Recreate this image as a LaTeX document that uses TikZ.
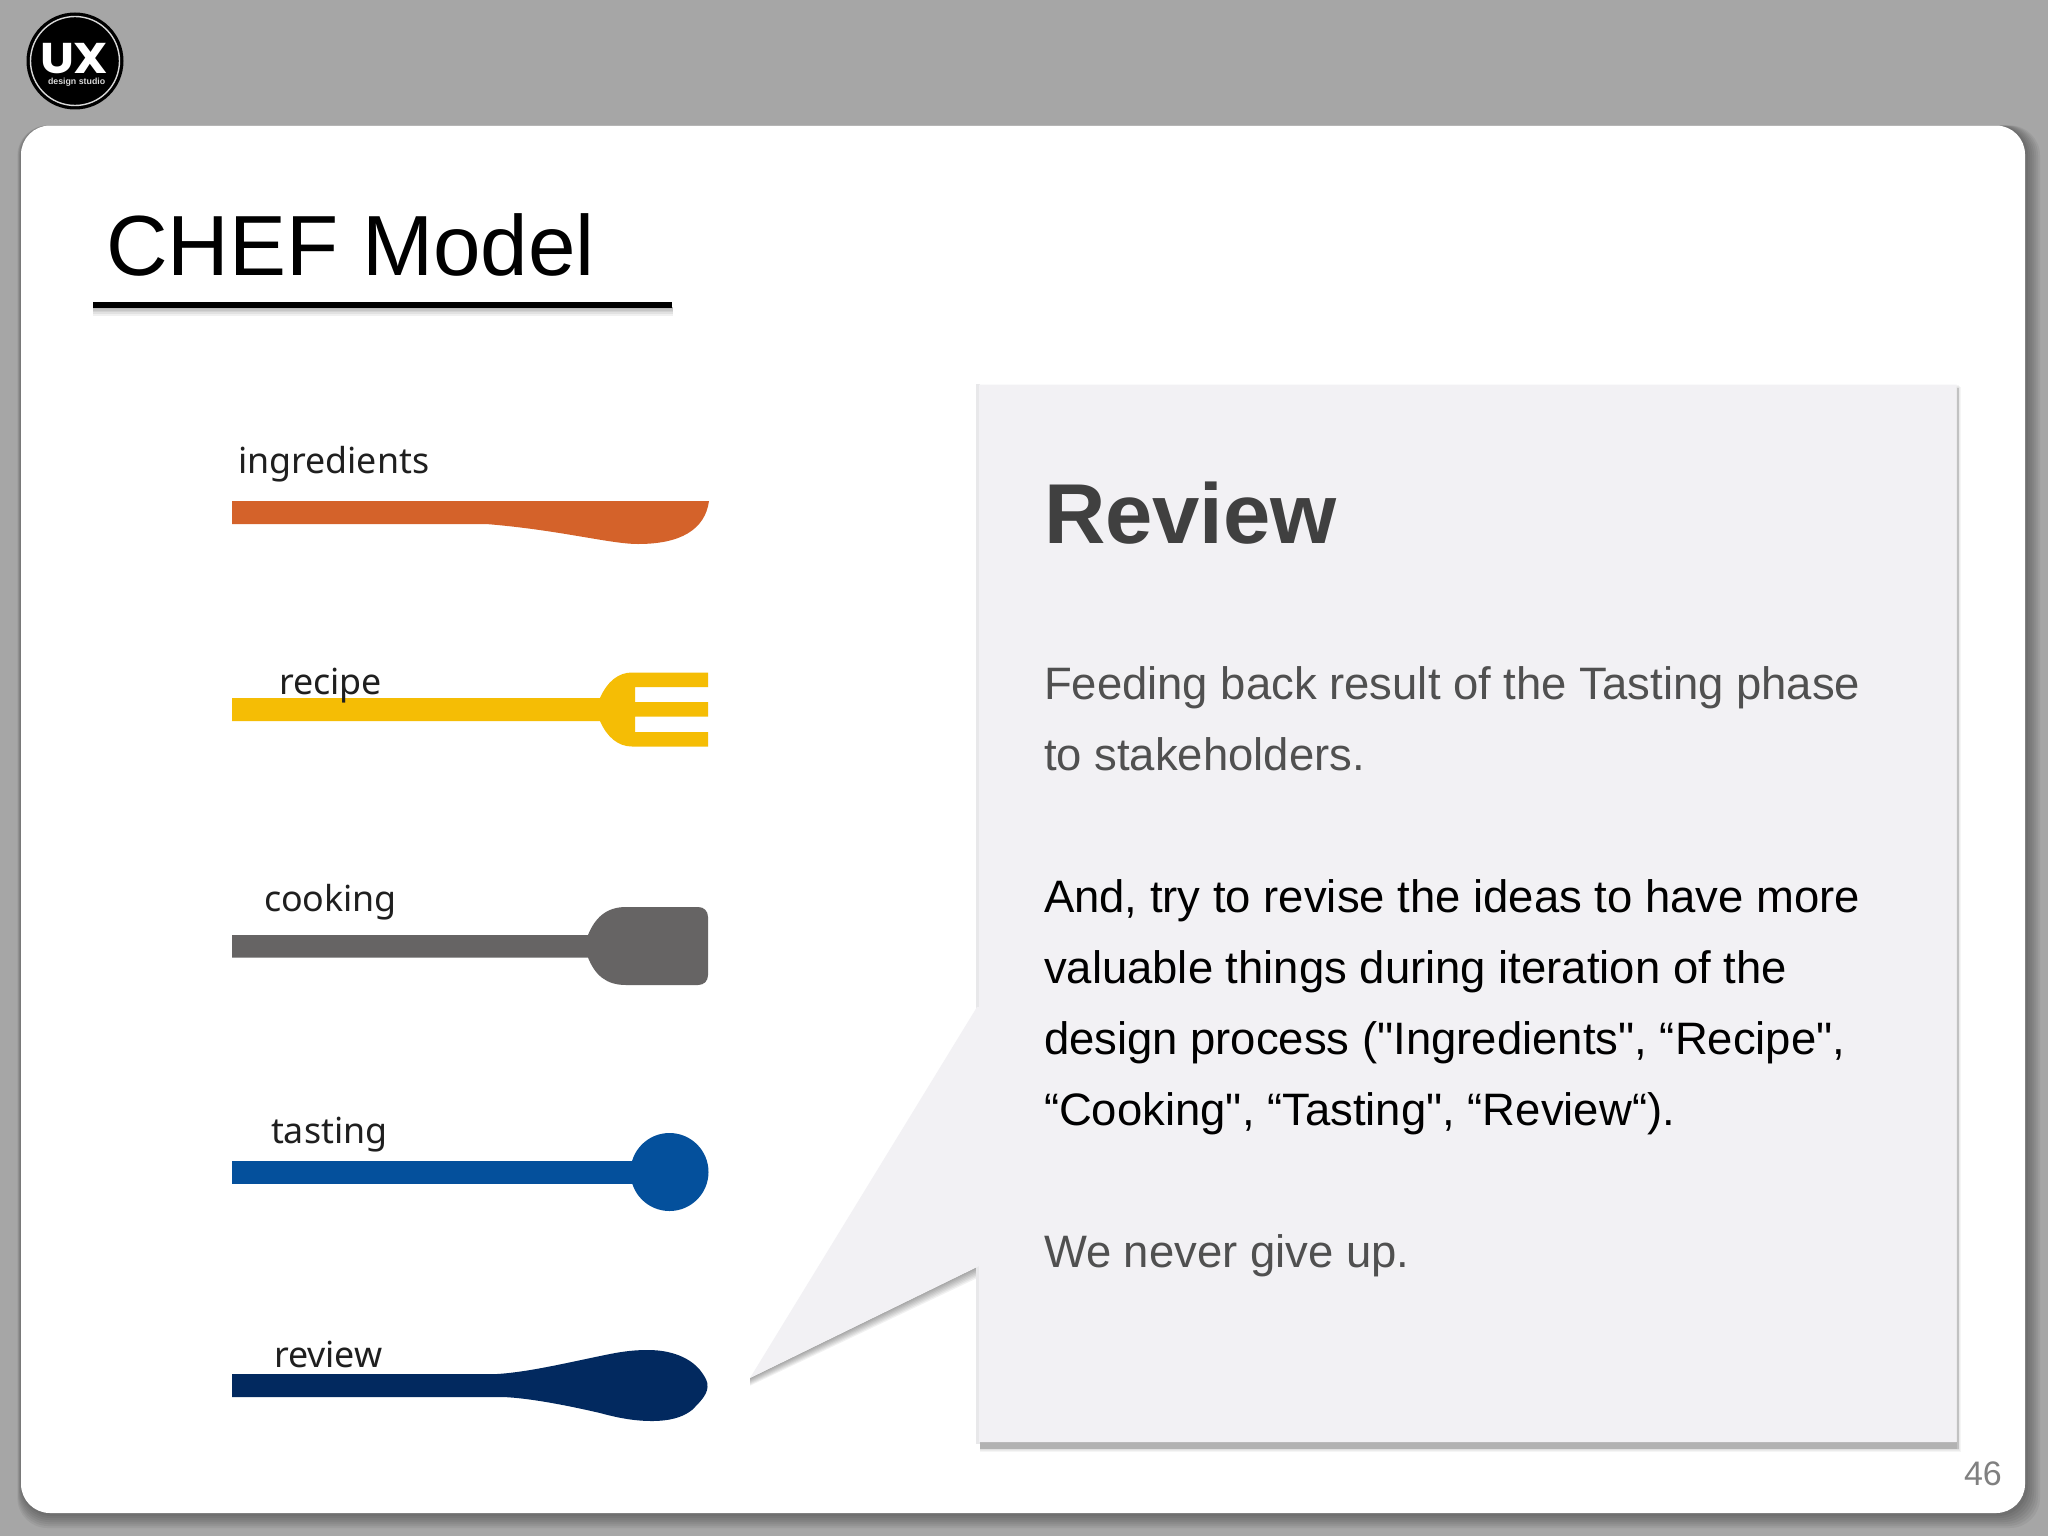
\documentclass[tikz,border=0pt]{standalone}
\usepackage{fontspec}
\setmainfont{Liberation Sans}
\newfontfamily\labelfont{Noto Sans}
\newfontfamily\bodyfont[Ligatures=NoCommon]{Liberation Sans}
\newfontfamily\uxfont{Poppins}
\definecolor{bgc}{HTML}{A6A6A6}
\definecolor{panelc}{HTML}{F2F1F4}
\definecolor{edgec}{HTML}{E8E8EA}
\definecolor{bodyg}{HTML}{505050}
\definecolor{headg}{HTML}{404040}
\definecolor{knifec}{HTML}{D4622A}
\definecolor{forkc}{HTML}{F5BD05}
\definecolor{spatc}{HTML}{666464}
\definecolor{tastec}{HTML}{04509C}
\definecolor{revc}{HTML}{02295F}
\tikzset{
  txt/.style={anchor=base west,inner sep=0pt,outer sep=0pt},
  lab/.style={txt,text=black!88,font=\labelfont\fontsize{17.9}{20}\selectfont},
  bodytxt/.style={txt,font=\bodyfont\fontsize{22.73}{26}\selectfont},
}
\begin{document}
\begin{tikzpicture}[x=0.5pt,y=-0.5pt]
\useasboundingbox (0,0) rectangle (2048,1536);
\fill[bgc] (0,0) rectangle (2048,1536);
% card shadow
\foreach \i in {12,10,...,0}{
  \fill[black,opacity=.05,rounded corners=15pt] ({21-\i*0.3},125.5) rectangle ({2025+\i+3},{1513+\i+3});
}
\fill[white,rounded corners=14.5pt] (21,125.5) rectangle (2025,1513);
% logo
\fill[black] (75,61) circle[radius=48.5];
\draw[white!85!black,line width=.7pt] (75,61) circle[radius=44.5];
\node[txt,text=white] (ux) at (40,74) {\scalebox{1.12}[1]{\uxfont\fontsize{21.5}{24}\selectfont\bfseries UX}};
\node[txt,text=white!85!black] (studio) at (48,85) {\fontsize{4.4}{5}\bfseries design studio};
% title
\node[txt] (title) at (106,275) {\fontsize{42.7}{48}\selectfont CHEF Model};
\foreach \i in {1,...,5}{
  \fill[black,opacity=.06] (93,307) rectangle (673,{307+\i*1.8});
}
\fill[black] (93,301.5) rectangle (672,307.5);
% utensils
\fill[knifec] (232,501) -- (709,501) .. controls (705,530) and (680,544) .. (638,544)
  .. controls (610,544) and (560,530) .. (486,524) -- (232,524) -- cycle;
\fill[forkc] (232,698) -- (600,698) .. controls (607,682) and (618,672.5) .. (632,672.5)
  -- (708,672.5) -- (708,687) -- (635,687) -- (635,702) -- (708,702) -- (708,716.5)
  -- (635,716.5) -- (635,732) -- (708,732) -- (708,746.5) -- (632,746.5)
  .. controls (618,746.5) and (607,737) .. (600,721) -- (232,721) -- cycle;
\fill[spatc] (232,935) -- (588,935) .. controls (595,918) and (606,907) .. (626,907)
  -- (698,907) .. controls (704,907) and (708,911) .. (708,917) -- (708,975)
  .. controls (708,981) and (704,985) .. (698,985) -- (626,985)
  .. controls (606,985) and (595,975) .. (588,957.5) -- (232,957.5) -- cycle;
\fill[tastec] (232,1161) rectangle (640,1184);
\fill[tastec] (669.5,1172) circle[radius=39];
\fill[revc] (232,1374) -- (497,1374) .. controls (530,1372) and (570,1362) .. (610,1354)
  .. controls (625,1351) and (636,1350) .. (648,1350)
  .. controls (672,1350) and (690,1358) .. (700,1370)
  .. controls (706,1378) and (708,1382) .. (707.5,1387)
  .. controls (707,1395) and (700,1402) .. (692,1410)
  .. controls (682,1418) and (668,1421) .. (652,1421)
  .. controls (632,1421) and (615,1417) .. (600,1413)
  .. controls (570,1406) and (530,1398) .. (503,1397) -- (232,1397) -- cycle;
\node[lab] (l1) at (238,473) {ingredients};
\node[lab] (l2) at (279,694) {recipe};
\node[lab] (l3) at (264,911) {cooking};
\node[lab] (l4) at (271,1143) {tasting};
\node[lab] (l5) at (274,1367) {review};
% panel shadows
\foreach \i in {1,...,7}{
  \fill[black,opacity=.055] (750,1378) -- (979,1266) -- (979,{1266+\i*1.6}) -- (750,{1378+\i*1.1}) -- cycle;
}
\foreach \i in {1,2,3}{
  \fill[black,opacity=.04] (980,{1449+\i}) rectangle ({1958+\i},{384+\i});
}
\fill[black!30] (980,1442) rectangle (1958,1449);
\fill[black!24] (1956.5,388) rectangle (1958.5,1449);
% panel with pointer
\fill[edgec] (976,384) rectangle (980,1444);
\fill[panelc] (979,384.5) -- (1956.5,384.5) -- (1956.5,1442) -- (979,1442) -- (979,1266) -- (750,1378) -- (977,1007) -- (979,1007) -- cycle;
% panel text
\node[txt,text=headg] (head) at (1044,543) {\fontsize{42.5}{48}\bfseries Review};
\node[bodytxt,text=bodyg] (p1a) at (1044,699) {Feeding back result of the Tasting phase};
\node[bodytxt,text=bodyg] (p1b) at (1044,770) {to stakeholders.};
\node[bodytxt,text=black] (p2a) at (1044,912) {And, try to revise the ideas to have more};
\node[bodytxt,text=black] (p2b) at (1044,983) {valuable things during iteration of the};
\node[bodytxt,text=black] (p2c) at (1044,1054) {design process ("Ingredients", “Recipe",};
\node[bodytxt,text=black] (p2d) at (1044,1125) {“Cooking", “Tasting", “Review“).};
\node[bodytxt,text=bodyg] (p3) at (1044,1267) {We never give up.};
\node[txt,text=black!50] (num) at (1964,1485) {\fontsize{17}{20}\selectfont 46};
\end{tikzpicture}
\end{document}
